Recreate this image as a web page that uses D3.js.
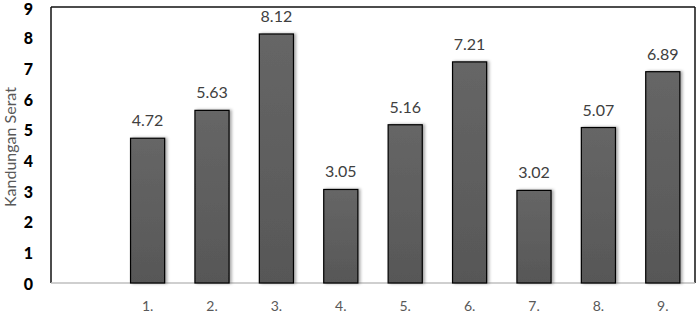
<!DOCTYPE html>
<html>
<head>
<meta charset="utf-8">
<script src="https://cdn.jsdelivr.net/npm/d3@7"></script>
<style>
  body { margin: 0; background: #fff; }
  svg { display: block; }
</style>
</head>
<body>
<svg id="chart" width="697" height="314"></svg>
<script>
// categories (first slot is empty in the original)
const categories = ["", "1.", "2.", "3.", "4.", "5.", "6.", "7.", "8.", "9."];
const values = [null, 4.72, 5.63, 8.12, 3.05, 5.16, 7.21, 3.02, 5.07, 6.89];
const yTicks = [0, 1, 2, 3, 4, 5, 6, 7, 8, 9];

const svg = d3.select("#chart");
const plotLeft = 51, plotRight = 695, plotTop = 7, plotBottom = 283;

let x = d3.scaleBand()
  .domain(categories.map((c, i) => i))
  .range([plotLeft, plotRight])
  .paddingInner(0.47)
  .paddingOuter(0.235);

let y = d3.scaleLinear().domain([0, 9]).range([plotBottom, plotTop]);

const defs = svg.append("defs");
const grad = defs.append("linearGradient")
  .attr("id", "barGrad")
  .attr("x1", "0%").attr("y1", "0%")
  .attr("x2", "0%").attr("y2", "100%");
grad.append("stop").attr("offset", "0%").style("stop-color", "#666");
grad.append("stop").attr("offset", "100%").style("stop-color", "#575757");

const shadow = defs.append("filter").attr("id", "shadow")
  .attr("x", "-20%").attr("y", "-10%").attr("width", "150%").attr("height", "120%");
shadow.append("feDropShadow")
  .attr("dx", 2).attr("dy", 0).attr("stdDeviation", 1.5)
  .attr("flood-color", "#000").attr("flood-opacity", 0.35);

// plot frame
svg.append("line")
  .attr("x1", plotLeft).attr("x2", plotRight).attr("y1", plotTop).attr("y2", plotTop)
  .attr("stroke", "#111").attr("stroke-width", 1.5);
svg.append("line")
  .attr("x1", plotLeft).attr("x2", plotLeft).attr("y1", plotTop).attr("y2", plotBottom)
  .attr("stroke", "#111").attr("stroke-width", 1.5);
svg.append("line")
  .attr("x1", plotRight).attr("x2", plotRight).attr("y1", plotTop).attr("y2", plotBottom)
  .attr("stroke", "#111").attr("stroke-width", 1.5);
svg.append("line")
  .attr("x1", plotLeft).attr("x2", plotRight).attr("y1", plotBottom).attr("y2", plotBottom)
  .attr("stroke", "#bfbfbf").attr("stroke-width", 1.5);

// bars
let barData = values.map((v, i) => ({ i: i, v: v })).filter(d => d.v !== null);

svg.selectAll("rect.bar")
  .data(barData)
  .enter()
  .append("rect")
  .attr("class", "bar")
  .attr("x", d => x(d.i))
  .attr("y", d => y(d.v))
  .attr("width", x.bandwidth())
  .attr("height", d => y(0) - y(d.v))
  .attr("fill", "url(#barGrad)")
  .attr("stroke", "#000")
  .attr("stroke-width", 1.2)
  .attr("filter", "url(#shadow)");

// value labels
svg.selectAll("text.val")
  .data(barData)
  .enter()
  .append("text")
  .attr("class", "val")
  .attr("x", d => x(d.i) + x.bandwidth() / 2)
  .attr("y", d => y(d.v) - 12)
  .attr("text-anchor", "middle")
  .style("font-family", "Lato, 'Open Sans', sans-serif")
  .style("font-size", "16px")
  .attr("fill", "#404040")
  .text(d => d.v.toFixed(2));

// y tick labels
svg.selectAll("text.ytick")
  .data(yTicks)
  .enter()
  .append("text")
  .attr("class", "ytick")
  .attr("x", 33)
  .attr("y", d => Math.max(y(d) + 1, 9))
  .attr("dy", "0.36em")
  .attr("text-anchor", "end")
  .style("font-family", "Lato, 'Open Sans', sans-serif")
  .style("font-weight", "900")
  .style("font-size", "16px")
  .attr("fill", "#000")
  .text(d => d);

// category labels
svg.selectAll("text.cat")
  .data(categories.map((c, i) => ({ c: c, i: i })))
  .enter()
  .append("text")
  .attr("class", "cat")
  .attr("x", d => x(d.i) + x.bandwidth() / 2)
  .attr("y", 311)
  .attr("text-anchor", "middle")
  .style("font-family", "Lato, 'Open Sans', sans-serif")
  .style("font-size", "14px")
  .attr("fill", "#595959")
  .text(d => d.c);

// y axis title
svg.append("text")
  .attr("transform", `translate(16, ${(plotTop + plotBottom) / 2 + 2}) rotate(-90)`)
  .attr("text-anchor", "middle")
  .style("font-family", "Lato, 'Open Sans', sans-serif")
  .style("font-size", "16px")
  .attr("fill", "#595959")
  .text("Kandungan Serat");
</script>
</body>
</html>
